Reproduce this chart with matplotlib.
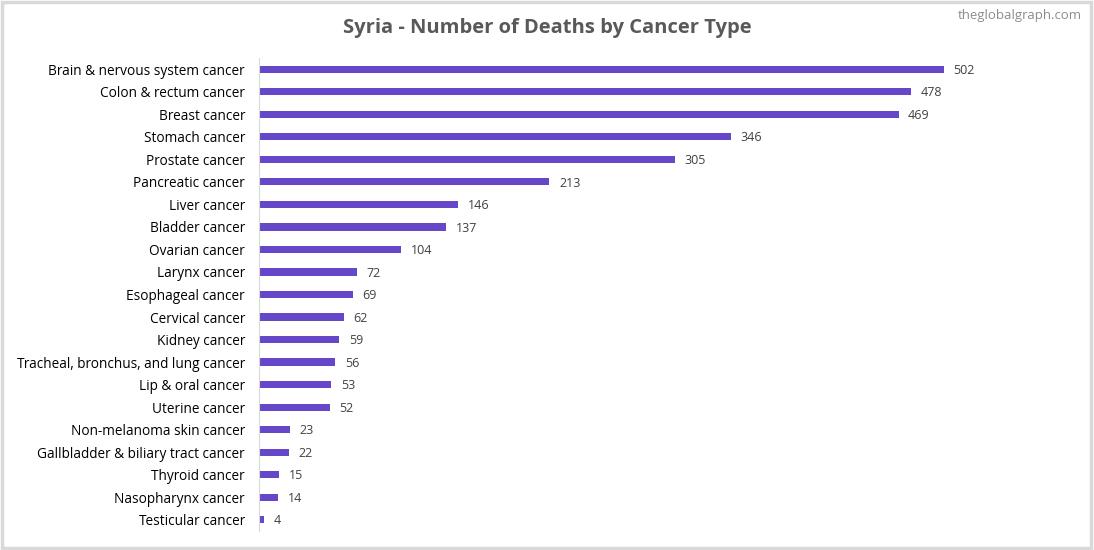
import matplotlib.pyplot as plt
from matplotlib.patches import Rectangle

# ── data ─────────────────────────────────────────
cancer_types = [
    "Brain & nervous system cancer", "Colon & rectum cancer", "Breast cancer",
    "Stomach cancer", "Prostate cancer", "Pancreatic cancer", "Liver cancer",
    "Bladder cancer", "Ovarian cancer", "Larynx cancer", "Esophageal cancer",
    "Cervical cancer", "Kidney cancer", "Tracheal, bronchus, and lung cancer",
    "Lip & oral cancer", "Uterine cancer", "Non-melanoma skin cancer",
    "Gallbladder & biliary tract cancer", "Thyroid cancer",
    "Nasopharynx cancer", "Testicular cancer",
]
deaths = [502, 478, 469, 346, 305, 213, 146, 137, 104, 72, 69, 62, 59, 56,
          53, 52, 23, 22, 15, 14, 4]

TITLE = "Syria - Number of Deaths by Cancer Type"
BAR_COLOR = "#6747C9"

plt.rcParams["font.family"] = "Open Sans"

fig = plt.figure(figsize=(10.94, 5.5), dpi=100)
fig.patches.append(Rectangle((0.002, 0.004), 0.995, 0.992, transform=fig.transFigure,
                             fill=False, edgecolor="#d9d9d9", linewidth=2.5))

ax = fig.add_axes([259 / 1094, 1 - 531 / 550, (1080 - 259) / 1094, (531 - 58) / 550])
y = list(range(len(deaths)))
ax.barh(y, deaths, height=0.32, color=BAR_COLOR)
ax.set_ylim(len(deaths) - 0.5, -0.5)
ax.set_xlim(0, 602)
ax.set_yticks(y)
ax.set_yticklabels(cancer_types, fontsize=9.8, color="#000000")
ax.tick_params(axis="y", length=0, pad=10)
ax.set_xticks([])
for s in ["top", "right", "bottom"]:
    ax.spines[s].set_visible(False)
ax.spines["left"].set_color("#d9d9d9")

for yi, v in zip(y, deaths):
    ax.text(v + 7, yi + 0.05, str(v), va="center", ha="left", fontsize=9, color="#404040")

fig.text(0.5, 1 - 28 / 550, TITLE, ha="center", va="center",
         fontsize=14.5, fontweight="bold", color="#595959")
fig.text(1 - 12 / 1094, 1 - 16 / 550, "theglobalgraph.com", ha="right", va="center",
         fontsize=9.5, color="#8c8c8c")

fig.savefig("out.png", dpi=100)
